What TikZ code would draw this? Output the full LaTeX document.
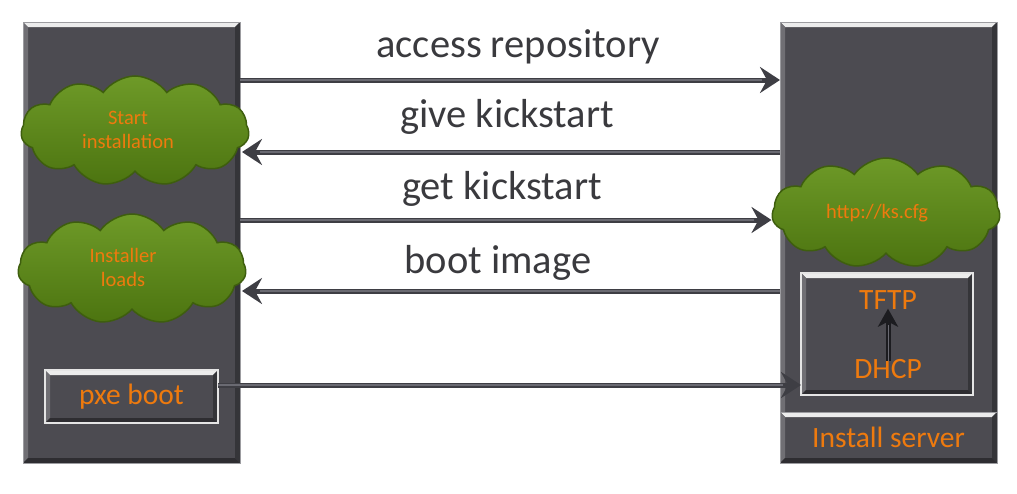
\documentclass[tikz,border=0pt]{standalone}
\usepackage{fontspec}
\setmainfont{Carlito}
\usetikzlibrary{shapes.symbols,arrows.meta,calc}
\definecolor{colfill}{HTML}{4C4B51}
\definecolor{coledge}{HTML}{9C9CA0}
\definecolor{cloudfill}{HTML}{5A8418}
\definecolor{cloudtop}{HTML}{6E9A28}
\definecolor{cloudbot}{HTML}{4C7410}
\definecolor{cloudedge}{HTML}{3E5E0E}
\definecolor{orangetxt}{HTML}{EE7A0E}
\definecolor{labeltxt}{HTML}{3A3A3E}
\definecolor{arrowcol}{HTML}{3E3E44}
\definecolor{arrowhi}{HTML}{6A6A72}
\definecolor{innerarrow}{HTML}{1C1C20}
\tikzset{
  bevel/.style={path picture={
    \fill[white!85!gray] (path picture bounding box.north west) -- (path picture bounding box.north east)
      -- ([xshift=-#1,yshift=-#1]path picture bounding box.north east) -- ([xshift=#1,yshift=-#1]path picture bounding box.north west) -- cycle;
    \fill[colfill!80!white] (path picture bounding box.north west) -- ([xshift=#1,yshift=-#1]path picture bounding box.north west)
      -- ([xshift=#1,yshift=#1]path picture bounding box.south west) -- (path picture bounding box.south west) -- cycle;
    \fill[colfill!70!black] (path picture bounding box.north east) -- ([xshift=-#1,yshift=-#1]path picture bounding box.north east)
      -- ([xshift=-#1,yshift=#1]path picture bounding box.south east) -- (path picture bounding box.south east) -- cycle;
    \fill[colfill!60!black] (path picture bounding box.south west) -- (path picture bounding box.south east)
      -- ([xshift=-#1,yshift=#1]path picture bounding box.south east) -- ([xshift=#1,yshift=#1]path picture bounding box.south west) -- cycle;
  }},
  colbox/.style={draw=coledge, line width=0.8pt, fill=colfill, inner sep=0pt, outer sep=0pt, bevel=5pt},
  subbox/.style={draw=white!80!gray, line width=1.2pt, fill=colfill, inner sep=0pt, outer sep=0pt, bevel=5pt,
    text=orangetxt, font=\fontsize{29.5}{31}\selectfont},
  cloudnode/.style={cloud, cloud puffs=11, cloud puff arc=110, aspect=2.2, draw=cloudedge, line width=1.5pt,
    top color=cloudtop, bottom color=cloudbot, inner sep=0pt, minimum width=228pt, minimum height=110pt},
  cloudtxt/.style={text=orangetxt, font=\fontsize{20.5}{24}\selectfont, align=center},
  otxt/.style={text=orangetxt, font=\fontsize{29.5}{31}\selectfont, inner sep=0pt},
  lbl/.style={text=labeltxt, font=\fontsize{40.5}{44}\selectfont, inner sep=0pt},
  arr/.style={draw=arrowcol, line width=5pt, -{Stealth[length=20pt,width=26pt,inset=7pt]},
    postaction={draw=arrowhi, line width=1.2pt, -, shorten >=18pt}},
}
\begin{document}
\begin{tikzpicture}[x=1pt,y=-1pt]
\useasboundingbox[fill=white] (0,0) rectangle (1017,493);
% columns
\node[colbox, minimum width=217pt, minimum height=441pt] (client) at (131.5,242.5) {};
\node[colbox, minimum width=217pt, minimum height=441pt] (server) at (888.5,242.5) {};
\node[colbox, minimum width=217pt, minimum height=51pt, text=orangetxt, font=\fontsize{29.5}{31}\selectfont] (install) at (888.5,437.5) {Install server};
% left items
\node[subbox, minimum width=173pt, minimum height=53pt] (pxe) at (131.5,396.5) {pxe boot};
\node[cloudnode] (start) at (135,131) {};
\node[cloudtxt] (starttxt) at (128,130) {Start\\installation};
\node[cloudnode] (inst) at (132,269) {};
\node[cloudtxt] (insttxt) at (123,267) {Installer\\loads};
% right items
\node[cloudnode] (http) at (886,213) {};
\node[cloudtxt] (httptxt) at (877,213) {http://ks.cfg};
\node[subbox, minimum width=172pt, minimum height=122pt] (tftpbox) at (887,334) {};
\node[otxt] (tftp) at (888,300) {TFTP};
\node[otxt] (dhcp) at (888,369) {DHCP};
\draw[draw=innerarrow, line width=5pt, -{Stealth[length=18pt,width=20pt,inset=5pt]},
  postaction={draw=arrowhi, line width=1pt, -, shorten >=16pt}] ([yshift=-2pt]dhcp.north) -- ([yshift=1pt]tftp.south);
% arrow levels
\coordinate (l1) at (0,80);
\coordinate (l2) at (0,152);
\coordinate (l3) at (0,220);
\coordinate (l4) at (0,291);
\coordinate (l5) at (0,385);
\draw[arr] (client.east |- l1) -- (server.west |- l1);
\draw[arr] (server.west |- l2) -- ([xshift=2pt]client.east |- l2);
\draw[arr] (client.east |- l3) -- (http.west |- l3);
\draw[arr] (server.west |- l4) -- ([xshift=2pt]client.east |- l4);
\draw[arr] (pxe.east |- l5) -- (tftpbox.west |- l5);
% labels
\node[lbl] (la) at (518,47) {access repository};
\node[lbl] (lb) at (507,117) {give kickstart};
\node[lbl] (lc) at (502,189) {get kickstart};
\node[lbl] (ld) at (498,263) {boot image};
\end{tikzpicture}
\end{document}
